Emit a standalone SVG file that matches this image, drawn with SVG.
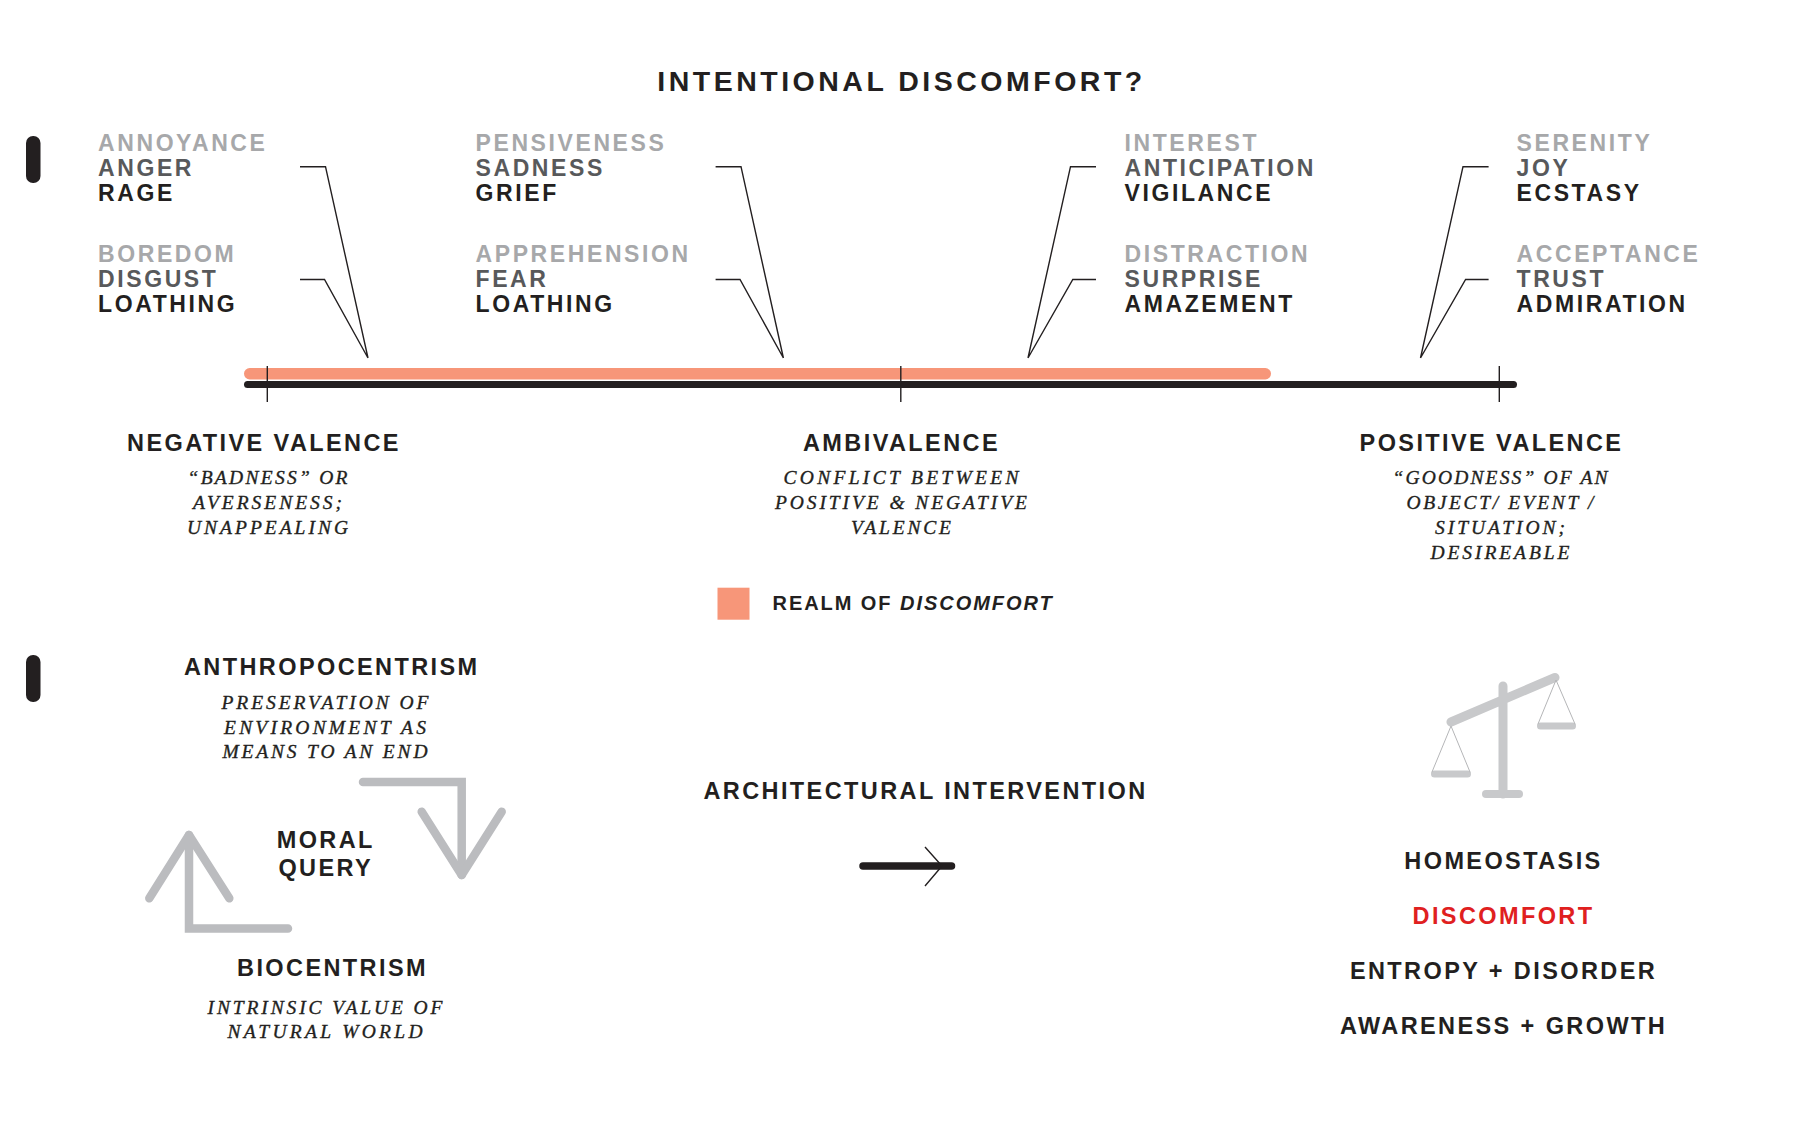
<svg xmlns="http://www.w3.org/2000/svg" width="1801" height="1136" viewBox="0 0 1801 1136">
<style>
text{font-family:"Liberation Sans",Arial,sans-serif;font-weight:700;fill:#231f20}
.l{font-size:23px;letter-spacing:2.6px}
.a{fill:#a7a8aa}.b{fill:#58595b}
.h{font-size:23.5px;letter-spacing:2.4px;text-anchor:middle}
.i{font-family:"Liberation Serif",serif;font-weight:400;font-style:italic;font-size:19.5px;text-anchor:middle;stroke:#231f20;stroke-width:.35}
.thin{fill:none;stroke:#231f20;stroke-width:1.4}
.ar{fill:none;stroke:#bbbcbf;stroke-width:8.5;stroke-linecap:round;stroke-linejoin:miter}
.ch{stroke-linejoin:round}
.sc{fill:none;stroke:#c8c9cb;stroke-linecap:round}
</style>
<rect width="1801" height="1136" fill="#fff"/>
<g id="title"><text x="901.500" y="91" text-anchor="middle" style="font-size:28.500px;letter-spacing:3.500px">INTENTIONAL DISCOMFORT?</text></g>
<g id="markers"><rect x="26" y="136" width="14.500" height="47" rx="7" fill="#231f20"/><rect x="26" y="655" width="14.500" height="47" rx="7" fill="#231f20"/></g>
<g id="emotions-1"><text class="l a" x="98" y="151">ANNOYANCE</text><text class="l b" x="98" y="176">ANGER</text><text class="l" x="98" y="201">RAGE</text><text class="l a" x="98" y="262">BOREDOM</text><text class="l b" x="98" y="287">DISGUST</text><text class="l" x="98" y="312">LOATHING</text></g>
<g id="emotions-2"><text class="l a" x="475.500" y="151">PENSIVENESS</text><text class="l b" x="475.500" y="176">SADNESS</text><text class="l" x="475.500" y="201">GRIEF</text><text class="l a" x="475.500" y="262">APPREHENSION</text><text class="l b" x="475.500" y="287">FEAR</text><text class="l" x="475.500" y="312">LOATHING</text></g>
<g id="emotions-3"><text class="l a" x="1124.500" y="151">INTEREST</text><text class="l b" x="1124.500" y="176">ANTICIPATION</text><text class="l" x="1124.500" y="201">VIGILANCE</text><text class="l a" x="1124.500" y="262">DISTRACTION</text><text class="l b" x="1124.500" y="287">SURPRISE</text><text class="l" x="1124.500" y="312">AMAZEMENT</text></g>
<g id="emotions-4"><text class="l a" x="1516.500" y="151">SERENITY</text><text class="l b" x="1516.500" y="176">JOY</text><text class="l" x="1516.500" y="201">ECSTASY</text><text class="l a" x="1516.500" y="262">ACCEPTANCE</text><text class="l b" x="1516.500" y="287">TRUST</text><text class="l" x="1516.500" y="312">ADMIRATION</text></g>
<g id="connectors">
<path class="thin" d="M300 166.700H325.500L368 358M300 279.500H324.500L368 358"/>
<path class="thin" d="M715.600 166.700H741L783.400 358M715.600 279.500H740L783.400 358"/>
<path class="thin" d="M1096 166.700H1070.500L1028 358M1096 279.500H1072.800L1028 358"/>
<path class="thin" d="M1488.600 166.700H1463L1420.500 358M1488.600 279.500H1465.600L1420.500 358"/>
</g>
<g id="scale-bar">
<rect x="244" y="368" width="1027" height="11.500" rx="5.700" fill="#f79679"/>
<rect x="244" y="381" width="1273" height="7" rx="3.500" fill="#231f20"/>
<path class="thin" d="M267.300 366V402M900.800 366V402M1499.300 366V402"/>
</g>
<g id="negative"><text class="h" x="264" y="450.500">NEGATIVE VALENCE</text><text class="i" x="267.500" y="484" textLength="160">“BADNESS” OR</text><text class="i" x="267.500" y="509" textLength="149">AVERSENESS;</text><text class="i" x="267.500" y="534" textLength="161">UNAPPEALING</text></g>
<g id="ambivalence"><text class="h" x="901.500" y="450.500">AMBIVALENCE</text><text class="i" x="901" y="484" textLength="235">CONFLICT BETWEEN</text><text class="i" x="901" y="509" textLength="252">POSITIVE &amp; NEGATIVE</text><text class="i" x="901" y="534" textLength="100">VALENCE</text></g>
<g id="positive"><text class="h" x="1491.500" y="450.500">POSITIVE VALENCE</text><text class="i" x="1500" y="484" textLength="215">“GOODNESS” OF AN</text><text class="i" x="1500" y="509" textLength="187">OBJECT/ EVENT /</text><text class="i" x="1500" y="534" textLength="130">SITUATION;</text><text class="i" x="1500" y="559" textLength="139">DESIREABLE</text></g>
<g id="legend"><rect x="717.500" y="587.700" width="32" height="32" fill="#f79679"/><text x="772.500" y="610" style="font-size:20px;letter-spacing:1.950px">REALM OF <tspan font-style="italic">DISCOMFORT</tspan></text></g>
<g id="anthropocentrism"><text class="h" x="331.800" y="675">ANTHROPOCENTRISM</text><text class="i" x="325" y="709" textLength="207">PRESERVATION OF</text><text class="i" x="325" y="733.500" textLength="202">ENVIRONMENT AS</text><text class="i" x="325" y="758" textLength="205">MEANS TO AN END</text></g>
<g id="moral-query"><text class="h" x="325.800" y="848">MORAL</text><text class="h" x="325.800" y="876">QUERY</text></g>
<g id="biocentrism"><text class="h" x="332.500" y="976">BIOCENTRISM</text><text class="i" x="325" y="1013.500" textLength="235">INTRINSIC VALUE OF</text><text class="i" x="325" y="1038" textLength="195">NATURAL WORLD</text></g>
<g id="cycle-arrows">
<path class="ar" d="M363 782H461.700V875"/><path class="ar ch" d="M421.700 811.700L461.700 875L501.700 811.700"/>
<path class="ar" d="M288 928.500H189V835"/><path class="ar ch" d="M149.300 898.300L189 835L229.300 898.300"/>
</g>
<g id="intervention"><text class="h" x="925.500" y="798.500">ARCHITECTURAL INTERVENTION</text>
<path d="M863 866H951.500" fill="none" stroke="#231f20" stroke-width="7.500" stroke-linecap="round"/><path class="thin" d="M925 847L942 866L925 886"/></g>
<g id="balance">
<path class="sc" stroke-width="9" d="M1503 686V794M1451 722L1555 677.500"/>
<path class="sc" stroke-width="8" d="M1486 794H1519"/>
<path class="sc" stroke-width="7" d="M1434.500 774H1467.500M1540.500 726H1572.500"/>
<path class="sc" stroke-width="1" stroke="#b5b6b8" style="stroke:#b5b6b8" d="M1432 772L1451 726L1470 772M1538 724L1556 680L1575 724"/>
</g>
<g id="states"><text class="h" x="1503.500" y="868.500">HOMEOSTASIS</text><text class="h" x="1503.500" y="923.500" style="fill:#e0201f">DISCOMFORT</text><text class="h" x="1503.500" y="978.800">ENTROPY + DISORDER</text><text class="h" x="1503.500" y="1034">AWARENESS + GROWTH</text></g>
</svg>
